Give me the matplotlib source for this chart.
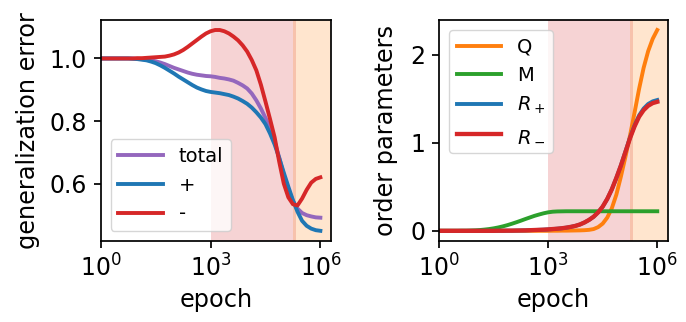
import matplotlib
matplotlib.use("Agg")
import matplotlib.pyplot as plt
import numpy as np

plt.rcParams['font.size'] = 17
plt.rcParams['axes.linewidth'] = 1.25

# epochs, every eighth of a decade from 10^0 to 10^6
epoch = np.logspace(0, 6, 49)

# generalization error
eg_total = [1.000, 1.000, 1.000, 1.000, 1.000, 1.000, 1.000, 1.000,
            0.999, 0.998, 0.996, 0.994, 0.991, 0.987, 0.982, 0.976,
            0.970, 0.965, 0.960, 0.955, 0.951, 0.948, 0.946, 0.944,
            0.943, 0.941, 0.938, 0.936, 0.933, 0.929, 0.922, 0.914,
            0.904, 0.888, 0.866, 0.840, 0.810, 0.776, 0.735, 0.683,
            0.628, 0.582, 0.545, 0.520, 0.506, 0.499, 0.495, 0.492, 0.491]
eg_plus = [1.000, 1.000, 1.000, 1.000, 1.000, 1.000, 1.000, 0.999,
           0.998, 0.996, 0.994, 0.990, 0.985, 0.978, 0.970, 0.961,
           0.952, 0.942, 0.933, 0.924, 0.915, 0.907, 0.901, 0.896,
           0.893, 0.891, 0.889, 0.886, 0.883, 0.878, 0.872, 0.864,
           0.855, 0.843, 0.828, 0.811, 0.790, 0.760, 0.725, 0.682,
           0.635, 0.590, 0.547, 0.510, 0.481, 0.465, 0.456, 0.451, 0.449]
eg_minus = [1.000, 1.000, 1.000, 1.000, 1.000, 1.000, 1.000, 1.000,
            1.001, 1.001, 1.002, 1.003, 1.004, 1.005, 1.006, 1.009,
            1.013, 1.019, 1.027, 1.037, 1.048, 1.059, 1.070, 1.080,
            1.087, 1.091, 1.091, 1.087, 1.080, 1.070, 1.058, 1.042,
            1.022, 0.995, 0.962, 0.916, 0.862, 0.806, 0.748, 0.670,
            0.600, 0.556, 0.534, 0.530, 0.552, 0.580, 0.603, 0.615, 0.620]

# order parameters
Q = [0.000, 0.000, 0.000, 0.000, 0.000, 0.000, 0.000, 0.000,
     0.000, 0.000, 0.000, 0.000, 0.000, 0.000, 0.000, 0.000,
     0.000, 0.000, 0.000, 0.000, 0.000, 0.000, 0.000, 0.000,
     0.000, 0.001, 0.001, 0.002, 0.002, 0.003, 0.004, 0.005,
     0.007, 0.011, 0.020, 0.042, 0.082, 0.150, 0.255, 0.410,
     0.615, 0.840, 1.080, 1.340, 1.610, 1.850, 2.040, 2.180, 2.280]
M = [0.000, 0.000, 0.000, 0.000, 0.000, 0.001, 0.001, 0.003,
     0.005, 0.009, 0.014, 0.020, 0.028, 0.038, 0.050, 0.064,
     0.080, 0.097, 0.115, 0.134, 0.152, 0.170, 0.185, 0.199,
     0.210, 0.217, 0.220, 0.221, 0.222, 0.222, 0.222, 0.222,
     0.222, 0.222, 0.222, 0.222, 0.222, 0.222, 0.222, 0.222,
     0.222, 0.222, 0.222, 0.222, 0.222, 0.222, 0.222, 0.222, 0.222]
R_plus = [0.000, 0.000, 0.000, 0.000, 0.000, 0.000, 0.000, 0.000,
          0.000, 0.000, 0.000, 0.000, 0.000, 0.001, 0.001, 0.002,
          0.002, 0.003, 0.004, 0.005, 0.007, 0.009, 0.011, 0.013,
          0.016, 0.020, 0.024, 0.029, 0.036, 0.045, 0.056, 0.072,
          0.095, 0.124, 0.160, 0.210, 0.275, 0.362, 0.470, 0.600,
          0.742, 0.900, 1.058, 1.196, 1.310, 1.388, 1.440, 1.470, 1.485]
R_minus = [0.000, 0.000, 0.000, 0.000, 0.000, 0.000, 0.000, 0.000,
           0.000, 0.000, 0.000, 0.000, 0.000, 0.001, 0.001, 0.002,
           0.002, 0.003, 0.004, 0.005, 0.007, 0.009, 0.011, 0.013,
           0.016, 0.020, 0.024, 0.029, 0.036, 0.045, 0.056, 0.072,
           0.095, 0.124, 0.160, 0.210, 0.275, 0.362, 0.470, 0.600,
           0.740, 0.895, 1.050, 1.185, 1.295, 1.370, 1.420, 1.450, 1.465]

fig = plt.figure(figsize=(6.86, 3.22), dpi=100)
ax1 = fig.add_axes([0.147, 0.252, 0.336, 0.686])
ax2 = fig.add_axes([0.640, 0.252, 0.334, 0.686])

for ax in (ax1, ax2):
    ax.axvspan(1e3, 2.1e5, color='tab:red', alpha=0.2, lw=0)
    ax.axvspan(1.8e5, 1e8, color='tab:orange', alpha=0.2, lw=0)

lw = 2.8
ax1.plot(epoch, eg_total, color='tab:purple', lw=lw, label='total')
ax1.plot(epoch, eg_plus, color='tab:blue', lw=lw, label='+')
ax1.plot(epoch, eg_minus, color='tab:red', lw=lw, label='-')
ax1.set_xscale('log')
ax1.set_xlim(1, 10**6.3)
ax1.set_ylabel('generalization error', fontsize=17.3, labelpad=7)
ax1.set_xlabel('epoch', fontsize=17.3)
ax1.set_yticks([0.6, 0.8, 1.0])
ax1.legend(loc='lower left', fontsize=14, handlelength=2.3)

ax2.plot(epoch, Q, color='tab:orange', lw=lw, label='Q')
ax2.plot(epoch, M, color='tab:green', lw=lw, label='M')
ax2.plot(epoch, R_plus, color='tab:blue', lw=lw, label='$R_+$')
ax2.plot(epoch, R_minus, color='tab:red', lw=lw + 0.3, label='$R_-$')
ax2.set_xscale('log')
ax2.set_xlim(1, 10**6.3)
ax2.set_ylabel('order parameters', fontsize=17.3, labelpad=9)
ax2.set_xlabel('epoch', fontsize=17.3)
ax2.set_yticks([0, 1, 2])
ax2.legend(loc='upper left', fontsize=14, handlelength=2.3)

for ax in (ax1, ax2):
    ax.set_xticks([1, 1e3, 1e6])
    ax.xaxis.set_minor_locator(matplotlib.ticker.NullLocator())
    ax.tick_params(length=5, width=1.25, pad=5)

fig.savefig('out.png', dpi=100)
